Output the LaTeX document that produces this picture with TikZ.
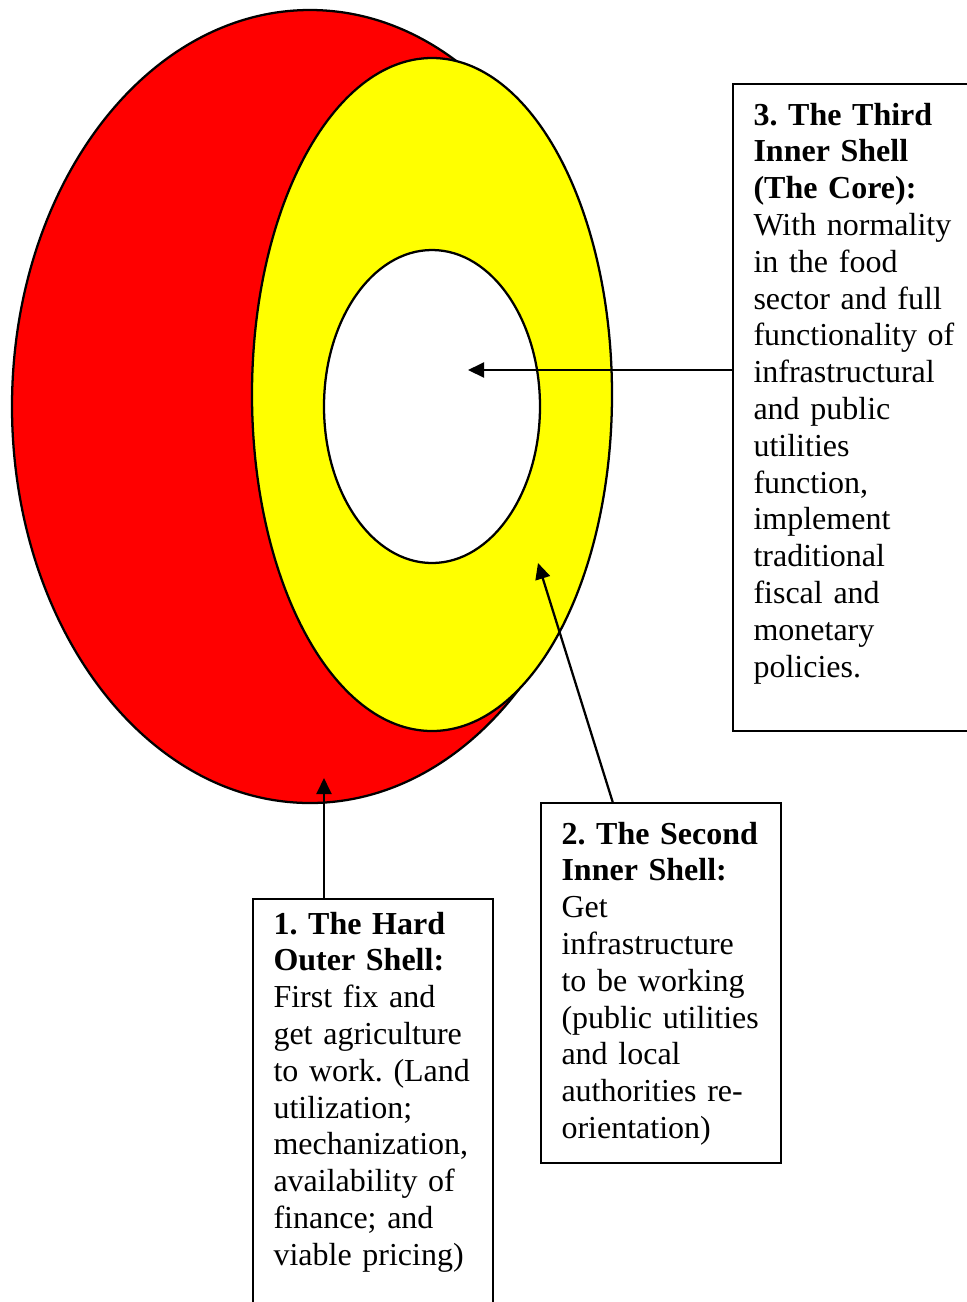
\documentclass[tikz,border=0pt]{standalone}
\usepackage{fontspec}
\setmainfont{Liberation Serif}
\usetikzlibrary{arrows.meta,calc}
\definecolor{shellred}{RGB}{255,0,0}
\definecolor{shellyellow}{RGB}{255,255,0}
\tikzset{
  shellline/.style={draw=black, line width=0.85pt},
  boxframe/.style={draw=black, line width=0.85pt, rectangle, inner sep=0pt, anchor=north west},
  boxtext/.style={anchor=base west, inner sep=0pt, text width=95pt, align=left,
    font=\fontsize{12pt}{13.8pt}\selectfont},
  pointer/.style={draw=black, line width=0.85pt, -{Triangle[length=6pt,width=5.6pt]}}
}
\frenchspacing
\begin{document}
\begin{tikzpicture}[x=0.375pt,y=-0.375pt]
\useasboundingbox (0,0) rectangle (967,1302);
% shells
\fill[shellred] (310,406.5) ellipse [x radius=298, y radius=396.5];
\draw[shellline] (310,406.5) ellipse [x radius=298, y radius=396.5];
\fill[shellyellow] (432,394.5) ellipse [x radius=180, y radius=336.5];
\draw[shellline] (432,394.5) ellipse [x radius=180, y radius=336.5];
\fill[white] (432,406.5) ellipse [x radius=108, y radius=156.5];
\draw[shellline] (432,406.5) ellipse [x radius=108, y radius=156.5];
\coordinate (core) at (468,370);
\coordinate (second) at (538,563);
\coordinate (outer) at (324,778);
% boxes
\node[boxframe, minimum width=93pt, minimum height=242.6pt] (box3) at (732,83) {};
\node[boxframe, minimum width=90pt, minimum height=135pt] (box2) at (540,802) {};
\node[boxframe, minimum width=90pt, minimum height=160pt] (box1) at (252,898) {};
\node[boxtext] (t3) at (753,125) {\frenchspacing\textbf{3. The Third}\\
\textbf{Inner Shell}\\
\textbf{(The Core):}\\
With normality\\
in the food\\
sector and full\\
functionality of\\
infrastructural\\
and public\\
utilities\\
function,\\
implement\\
traditional\\
fiscal and\\
monetary\\
policies.};
\node[boxtext] (t2) at (561,844) {\frenchspacing\textbf{2. The Second}\\
\textbf{Inner Shell:}\\
Get\\
infrastructure\\
to be working\\
(public utilities\\
and local\\
authorities re-\\
orientation)};
\node[boxtext] (t1) at (273,934) {\frenchspacing\textbf{1. The Hard}\\
\textbf{Outer Shell:}\\
First fix and\\
get agriculture\\
to work. (Land\\
utilization;\\
mechanization,\\
availability of\\
finance; and\\
viable pricing)};
% connectors
\draw[pointer] (box3.west |- core) -- (core);
\draw[pointer] ($(box2.north west)!0.3!(box2.north east)$) -- (second);
\draw[pointer] (box1.north west -| outer) -- (outer);
\end{tikzpicture}
\end{document}
